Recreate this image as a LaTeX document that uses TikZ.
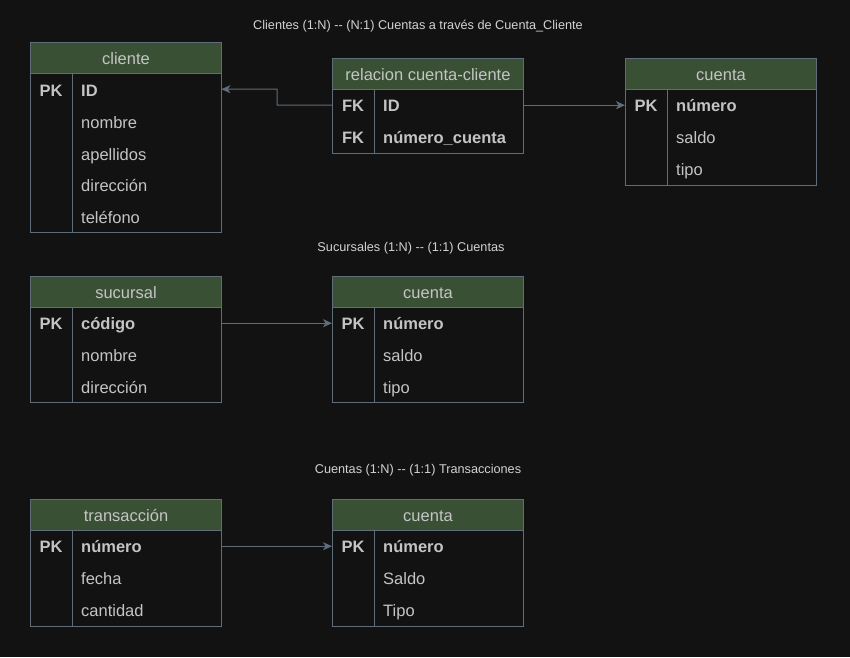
\documentclass[tikz,border=0pt]{standalone}
\usepackage{fontspec}
\setmainfont{Liberation Sans}
\usetikzlibrary{arrows.meta}
\definecolor{bgc}{HTML}{121212}
\definecolor{hdrfill}{HTML}{3A5035}
\definecolor{bdc}{HTML}{5F6D7B}
\definecolor{txc}{HTML}{C4C4C4}
\definecolor{ttc}{HTML}{D2D2D2}
\tikzset{
  hdr/.style={draw=bdc, fill=hdrfill, line width=1pt, minimum width=191pt, minimum height=31pt, anchor=north west, inner sep=0pt, text=txc, text height=13.5pt, text depth=1.5pt, font=\fontsize{16.5}{18}\selectfont},
  tbody/.style={draw=bdc, line width=1pt, minimum width=191pt, anchor=north west, inner sep=0pt},
  rowbox/.style={minimum width=191pt, minimum height=32pt, inner sep=0pt, anchor=north west},
  keytxt/.style={text=txc, inner sep=0pt, anchor=base, font=\fontsize{16.5}{18}\selectfont\bfseries},
  fldtxt/.style={text=txc, inner sep=0pt, anchor=base west, font=\fontsize{16.5}{18}\selectfont},
  fldb/.style={fldtxt, font=\fontsize{16.5}{18}\selectfont\bfseries},
  title/.style={text=ttc, inner sep=0pt, anchor=base, font=\fontsize{12.7}{14}\selectfont},
  divl/.style={draw=bdc, line width=1pt},
  conn/.style={draw=bdc, line width=1pt, -{Stealth[length=9pt,width=8pt,inset=2.5pt]}},
}
\begin{document}
\begin{tikzpicture}[x=1pt,y=-1pt]
\fill[bgc] (0,0) rectangle (850,657);
\useasboundingbox (0,0) rectangle (850,657);

% titles
\node[title] (t1) at (418,29.5) {Clientes (1:N) -{}- (N:1) Cuentas a través de Cuenta\_Cliente};
\node[title] (t2) at (411,251.5) {Sucursales (1:N) -{}- (1:1) Cuentas};
\node[title] (t3) at (418,473.5) {Cuentas (1:N) -{}- (1:1) Transacciones};

% ---------- cliente ----------
\node[tbody, minimum height=159pt] (cl-b) at (30,73) {};
\node[hdr] (cl-h) at (30,42) {cliente};
\draw[divl] (72,73) -- (72,232);
\node[rowbox] (cl-r1) at (30,73) {};
\node[keytxt] (cl-k1) at (51,96) {PK};
\node[fldb] (cl-f1) at (81,96) {ID};
\node[fldtxt] (cl-f2) at (81,128) {nombre};
\node[fldtxt] (cl-f3) at (81,160) {apellidos};
\node[fldtxt] (cl-f4) at (81,191.5) {dirección};
\node[fldtxt] (cl-f5) at (81,223) {teléfono};

% ---------- relacion cuenta-cliente ----------
\node[tbody, minimum height=64pt] (rc-b) at (332,89) {};
\node[hdr] (rc-h) at (332,58) {relacion cuenta-cliente};
\draw[divl] (374,89) -- (374,153);
\node[rowbox] (rc-r1) at (332,89) {};
\node[keytxt] (rc-k1) at (353,111) {FK};
\node[fldb] (rc-f1) at (383,111) {ID};
\node[keytxt] (rc-k2) at (353,143) {FK};
\node[fldb] (rc-f2) at (383,143) {número\_cuenta};

% ---------- cuenta (1) ----------
\node[tbody, minimum height=96pt] (c1-b) at (625,89) {};
\node[hdr] (c1-h) at (625,58) {cuenta};
\draw[divl] (667,89) -- (667,185);
\node[rowbox] (c1-r1) at (625,89) {};
\node[keytxt] (c1-k1) at (646,111) {PK};
\node[fldb] (c1-f1) at (676,111) {número};
\node[fldtxt] (c1-f2) at (676,143) {saldo};
\node[fldtxt] (c1-f3) at (676,175) {tipo};

% ---------- sucursal ----------
\node[tbody, minimum height=95pt] (su-b) at (30,307) {};
\node[hdr] (su-h) at (30,276) {sucursal};
\draw[divl] (72,307) -- (72,402);
\node[rowbox] (su-r1) at (30,307) {};
\node[keytxt] (su-k1) at (51,329) {PK};
\node[fldb] (su-f1) at (81,329) {código};
\node[fldtxt] (su-f2) at (81,361) {nombre};
\node[fldtxt] (su-f3) at (81,393) {dirección};

% ---------- cuenta (2) ----------
\node[tbody, minimum height=95pt] (c2-b) at (332,307) {};
\node[hdr] (c2-h) at (332,276) {cuenta};
\draw[divl] (374,307) -- (374,402);
\node[rowbox] (c2-r1) at (332,307) {};
\node[keytxt] (c2-k1) at (353,329) {PK};
\node[fldb] (c2-f1) at (383,329) {número};
\node[fldtxt] (c2-f2) at (383,361) {saldo};
\node[fldtxt] (c2-f3) at (383,393) {tipo};

% ---------- transaccion ----------
\node[tbody, minimum height=96pt] (tr-b) at (30,530) {};
\node[hdr] (tr-h) at (30,499) {transacción};
\draw[divl] (72,530) -- (72,626);
\node[rowbox] (tr-r1) at (30,530) {};
\node[keytxt] (tr-k1) at (51,552) {PK};
\node[fldb] (tr-f1) at (81,552) {número};
\node[fldtxt] (tr-f2) at (81,584) {fecha};
\node[fldtxt] (tr-f3) at (81,616) {cantidad};

% ---------- cuenta (3) ----------
\node[tbody, minimum height=96pt] (c3-b) at (332,530) {};
\node[hdr] (c3-h) at (332,499) {cuenta};
\draw[divl] (374,530) -- (374,626);
\node[rowbox] (c3-r1) at (332,530) {};
\node[keytxt] (c3-k1) at (353,552) {PK};
\node[fldb] (c3-f1) at (383,552) {número};
\node[fldtxt] (c3-f2) at (383,584) {Saldo};
\node[fldtxt] (c3-f3) at (383,616) {Tipo};

% ---------- connectors ----------
\coordinate (bend) at (277,105);
\draw[conn] (rc-r1.west) -- (bend) |- (cl-r1.east);
\draw[conn] (rc-r1.east) -- (c1-r1.west);
\draw[conn] (su-r1.east) -- (c2-r1.west);
\draw[conn] (tr-r1.east) -- (c3-r1.west);
\end{tikzpicture}
\end{document}
